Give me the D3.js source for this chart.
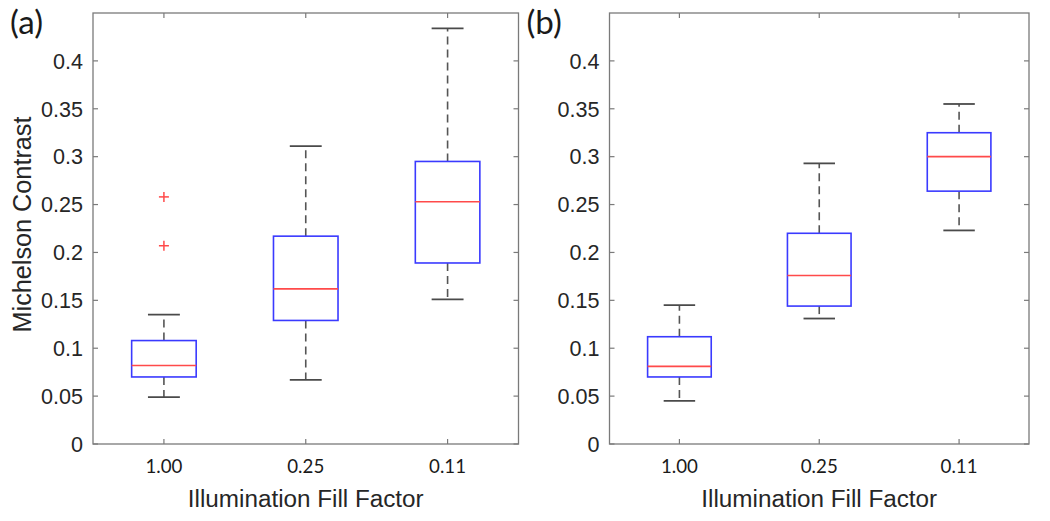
<!DOCTYPE html>
<html><head><meta charset="utf-8">
<script src="https://cdn.jsdelivr.net/npm/d3@7"></script>
<style>
body{margin:0;background:#fff;}
svg{display:block;}
</style></head>
<body>
<svg id="chart" width="1050" height="521"></svg>
<script>
const categories = ["1.00", "0.25", "0.11"];
const yTicks = [0, 0.05, 0.1, 0.15, 0.2, 0.25, 0.3, 0.35, 0.4];
const yTickLabels = ["0", "0.05", "0.1", "0.15", "0.2", "0.25", "0.3", "0.35", "0.4"];

// Panel (a)
const aWhiskerLow  = [0.049, 0.067, 0.151];
const aQ1          = [0.070, 0.129, 0.189];
const aMedian      = [0.082, 0.162, 0.253];
const aQ3          = [0.108, 0.217, 0.295];
const aWhiskerHigh = [0.135, 0.311, 0.434];
const aOutliers    = [[0.207, 0.258], [], []];

// Panel (b)
const bWhiskerLow  = [0.045, 0.131, 0.223];
const bQ1          = [0.070, 0.144, 0.264];
const bMedian      = [0.081, 0.176, 0.300];
const bQ3          = [0.112, 0.220, 0.325];
const bWhiskerHigh = [0.145, 0.293, 0.355];
const bOutliers    = [[], [], []];

const svg = d3.select("#chart");
const SANS = "'Liberation Sans', Arial, Helvetica, sans-serif";
const CAL = "Lato, 'Open Sans', sans-serif";

// find a font size so that a sample string has the wanted width
function fitSize(family, sample, width) {
  const t = svg.append("text").style("font-family", family).style("font-size", "20px").text(sample);
  const w = t.node().getComputedTextLength();
  t.remove();
  return 20 * width / w;
}
const yTickSize = fitSize(SANS, "0.35", 42);
const xTickSize = fitSize(CAL, "1.00", 37);
const xLabelSize = fitSize(SANS, "Illumination Fill Factor", 236);
const yLabelSize = fitSize(SANS, "Michelson Contrast", 216);
const tagSize = fitSize(CAL, "(a)", 33);

function panel(opts) {
  const {left, right, top, bottom, tag, showYLabel, lo, q1, med, q3, hi, outl} = opts;
  const g = svg.append("g");
  const x = d3.scaleLinear().domain([0.5, 3.5]).range([left, right]);
  const y = d3.scaleLinear().domain([0, 0.45]).range([bottom, top]);
  const axisColor = "#7a7a7a";
  const textColor = "#262626";
  const tickLen = 5;

  g.append("rect").attr("x", left).attr("y", top).attr("width", right - left).attr("height", bottom - top)
    .attr("fill", "none").attr("stroke", axisColor).attr("stroke-width", 1.3);

  yTicks.forEach((t, i) => {
    const yy = y(t);
    g.append("line").attr("x1", left).attr("x2", left + tickLen).attr("y1", yy).attr("y2", yy).attr("stroke", axisColor).attr("stroke-width", 1.2);
    g.append("line").attr("x1", right).attr("x2", right - tickLen).attr("y1", yy).attr("y2", yy).attr("stroke", axisColor).attr("stroke-width", 1.2);
    g.append("text").attr("x", left - 10).attr("y", yy).attr("dy", "0.36em").attr("text-anchor", "end")
      .style("font-family", SANS).style("font-size", yTickSize + "px").attr("fill", textColor)
      .text(yTickLabels[i]);
  });

  categories.forEach((c, i) => {
    const xx = x(i + 1);
    g.append("line").attr("x1", xx).attr("x2", xx).attr("y1", bottom).attr("y2", bottom - tickLen).attr("stroke", axisColor).attr("stroke-width", 1.2);
    g.append("line").attr("x1", xx).attr("x2", xx).attr("y1", top).attr("y2", top + tickLen).attr("stroke", axisColor).attr("stroke-width", 1.2);
    g.append("text").attr("x", xx).attr("y", bottom + 29).attr("text-anchor", "middle")
      .style("font-family", CAL).style("font-size", xTickSize + "px").attr("fill", "#1a1a1a")
      .text(c);
  });

  g.append("text").attr("x", (left + right) / 2).attr("y", 507).attr("text-anchor", "middle")
    .style("font-family", SANS).style("font-size", xLabelSize + "px").attr("fill", textColor)
    .text("Illumination Fill Factor");

  if (showYLabel) {
    g.append("text").attr("transform", `translate(31,${(top + bottom) / 2 - 4}) rotate(-90)`).attr("text-anchor", "middle")
      .style("font-family", SANS).style("font-size", yLabelSize + "px").attr("fill", textColor)
      .text("Michelson Contrast");
  }

  g.append("text").attr("x", left - 83).attr("y", 34)
    .style("font-family", CAL).style("font-size", tagSize + "px").attr("fill", "#1a1a1a")
    .text(tag);

  const bw = 0.455, cw = 0.225;
  categories.forEach((c, i) => {
    const cx = x(i + 1);
    const x0 = x(i + 1 - bw / 2), x1 = x(i + 1 + bw / 2);
    const c0 = x(i + 1 - cw / 2), c1 = x(i + 1 + cw / 2);
    g.append("line").attr("x1", cx).attr("x2", cx).attr("y1", y(q3[i])).attr("y2", y(hi[i]))
      .attr("stroke", "#555").attr("stroke-width", 1.6).attr("stroke-dasharray", "8,5");
    g.append("line").attr("x1", cx).attr("x2", cx).attr("y1", y(q1[i])).attr("y2", y(lo[i]))
      .attr("stroke", "#555").attr("stroke-width", 1.6).attr("stroke-dasharray", "8,5");
    [hi[i], lo[i]].forEach(v => {
      g.append("line").attr("x1", c0).attr("x2", c1).attr("y1", y(v)).attr("y2", y(v))
        .attr("stroke", "#4a4a4a").attr("stroke-width", 1.8);
    });
    g.append("rect").attr("x", x0).attr("y", y(q3[i])).attr("width", x1 - x0).attr("height", y(q1[i]) - y(q3[i]))
      .attr("fill", "none").attr("stroke", "#3a3aff").attr("stroke-width", 1.6);
    g.append("line").attr("x1", x0).attr("x2", x1).attr("y1", y(med[i])).attr("y2", y(med[i]))
      .attr("stroke", "#ff4a4a").attr("stroke-width", 1.6);
    outl[i].forEach(v => {
      const yy = y(v), s = 5;
      g.append("line").attr("x1", cx - s).attr("x2", cx + s).attr("y1", yy).attr("y2", yy).attr("stroke", "#ff4a4a").attr("stroke-width", 1.5);
      g.append("line").attr("x1", cx).attr("x2", cx).attr("y1", yy - s).attr("y2", yy + s).attr("stroke", "#ff4a4a").attr("stroke-width", 1.5);
    });
  });
}

panel({left: 93, right: 518.5, top: 13, bottom: 444, tag: "(a)", showYLabel: true,
  lo: aWhiskerLow, q1: aQ1, med: aMedian, q3: aQ3, hi: aWhiskerHigh, outl: aOutliers});
panel({left: 609.5, right: 1029, top: 13, bottom: 444, tag: "(b)", showYLabel: false,
  lo: bWhiskerLow, q1: bQ1, med: bMedian, q3: bQ3, hi: bWhiskerHigh, outl: bOutliers});
</script>
</body></html>
